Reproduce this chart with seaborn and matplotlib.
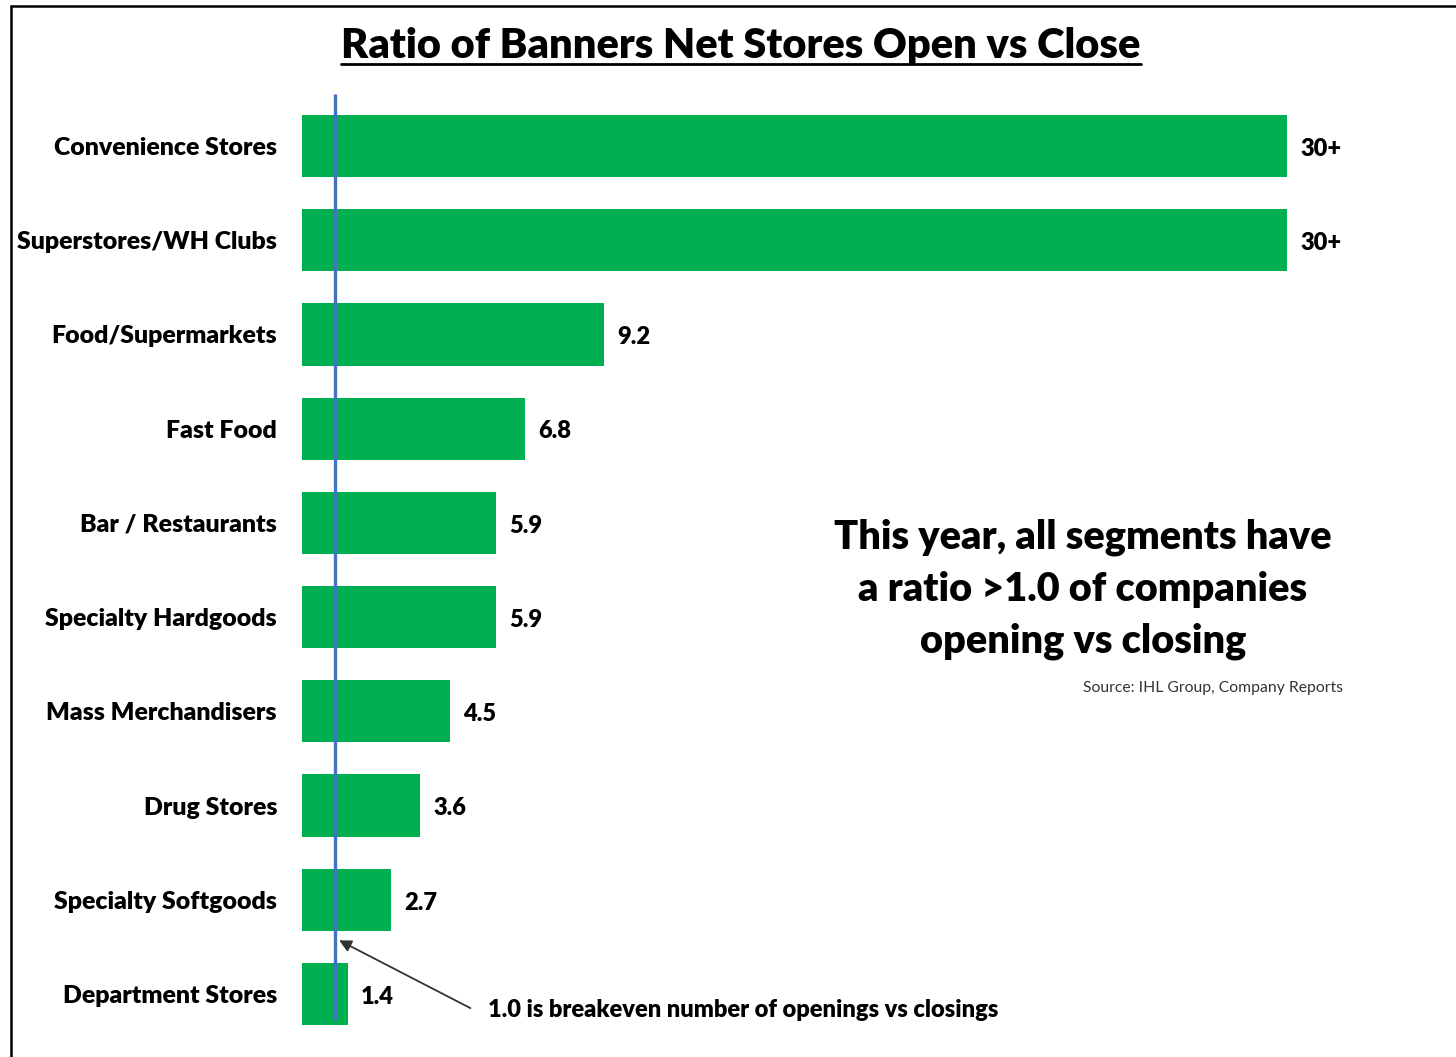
import matplotlib
matplotlib.use("Agg")
import matplotlib.pyplot as plt
from matplotlib.lines import Line2D
import seaborn as sns
import pandas as pd

# Net store open/close ratio by retail segment
categories = [
    "Convenience Stores",
    "Superstores/WH Clubs",
    "Food/Supermarkets",
    "Fast Food",
    "Bar / Restaurants",
    "Specialty Hardgoods",
    "Mass Merchandisers",
    "Drug Stores",
    "Specialty Softgoods",
    "Department Stores",
]
ratios = [30, 30, 9.2, 6.8, 5.9, 5.9, 4.5, 3.6, 2.7, 1.4]
value_labels = ["30+", "30+", "9.2", "6.8", "5.9", "5.9", "4.5", "3.6", "2.7", "1.4"]
breakeven = 1.0

df = pd.DataFrame({"segment": categories, "ratio": ratios})

sns.set_theme(style="white")
plt.rcParams["font.family"] = ["Lato", "DejaVu Sans"]
BOLD = "heavy"

W, H = 1456, 1057
fig = plt.figure(figsize=(W / 100, H / 100), dpi=100)
fig.patch.set_facecolor("white")

ax = fig.add_axes([302 / W, (H - 1050) / H, 1146 / W, (1050 - 94) / H])
sns.barplot(data=df, y="segment", x="ratio", orient="h", color="#00B050",
            saturation=1, width=0.66, ax=ax, edgecolor="none")

ax.set_xlim(0, 34.9)
ax.set_ylim(9.594, -0.552)
ax.set_xlabel("")
ax.set_ylabel("")
ax.set_xticks([])
for s in ax.spines.values():
    s.set_visible(False)
ax.tick_params(axis="y", length=0, pad=18)
for lbl in ax.get_yticklabels():
    lbl.set_fontsize(17.9)
    lbl.set_fontweight(BOLD)
    lbl.set_color("black")

# value labels at bar ends
for i, (v, t) in enumerate(zip(ratios, value_labels)):
    ax.annotate(t, xy=(v, i), xytext=(9.5, -2), textcoords="offset points",
                ha="left", va="center", fontsize=17, fontweight=BOLD, color="black")

# breakeven reference line
ax.plot([breakeven, breakeven], [-0.552, 9.28], color="#4472C4", lw=2.4,
        zorder=5, solid_capstyle="butt")

ax.annotate("", xy=(1.13, 8.43), xytext=(5.13, 9.15),
            arrowprops=dict(arrowstyle="-|>", color="#333333", lw=1.3,
                            mutation_scale=18, shrinkA=0, shrinkB=0))
ax.text(5.65, 9.17, "1.0 is breakeven number of openings vs closings",
        ha="left", va="center", fontsize=17, fontweight=BOLD, color="black")

# callout
fig.text(1083 / W, 1 - 589 / H,
         "This year, all segments have\na ratio >1.0 of companies\nopening vs closing",
         ha="center", va="center", fontsize=28.5, fontweight=BOLD, color="black",
         linespacing=1.49)
fig.text(1343 / W, 1 - 688 / H, "Source: IHL Group, Company Reports",
         ha="right", va="center", fontsize=11.3, color="#333333")

# underlined title
title = fig.text(741 / W, 1 - 46 / H, "Ratio of Banners Net Stores Open vs Close",
                 ha="center", va="center", fontsize=30, fontweight=BOLD, color="black")
fig.canvas.draw()
bb = title.get_window_extent(renderer=fig.canvas.get_renderer())
uy = (bb.y0 + 1) / H
fig.add_artist(Line2D([bb.x0 / W, bb.x1 / W], [uy, uy], color="black", lw=2,
                      transform=fig.transFigure))

# frame on the left and top edges
fig.add_artist(Line2D([11 / W, 11 / W], [0, 1 - 6 / H], color="black", lw=1.8,
                      transform=fig.transFigure))
fig.add_artist(Line2D([11 / W, 1], [1 - 6 / H, 1 - 6 / H], color="black", lw=1.8,
                      transform=fig.transFigure))

fig.savefig("out.png", dpi=100, facecolor="white")
